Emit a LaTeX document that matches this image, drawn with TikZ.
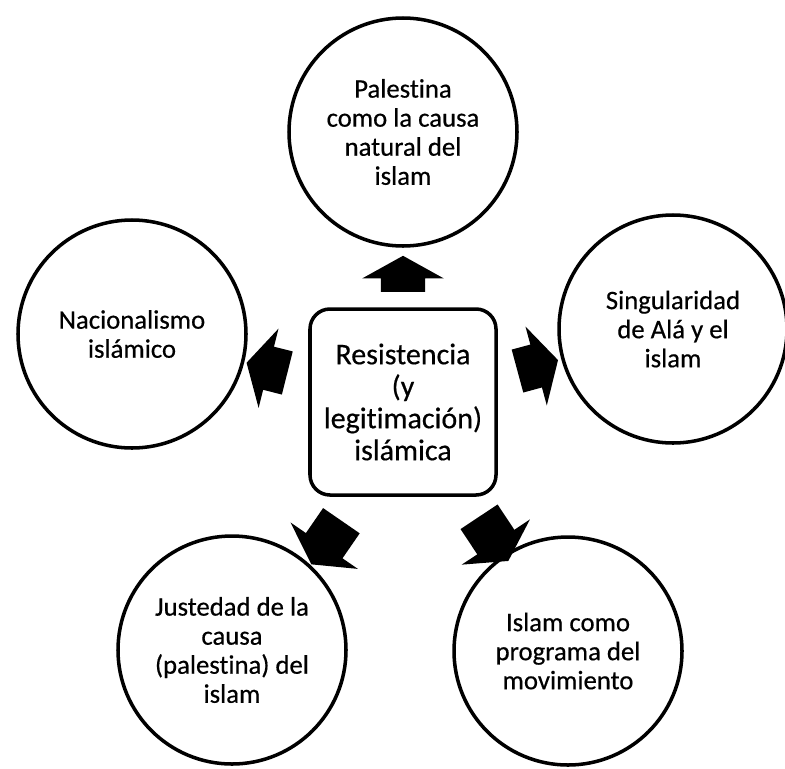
\documentclass[tikz,border=0pt]{standalone}
\usepackage{fontspec}
\setmainfont{Carlito}[Ligatures={NoCommon}, FakeBold=0.5]
\usetikzlibrary{
	shapes.arrows,  %block arrows
	positioning
}

\begin{document}
\begin{tikzpicture}[x=0.3mm, y=-0.3mm]
\tikzstyle{idea}=[circle, draw=black, line width=3pt, minimum size=68.4mm, inner sep=0pt, align=center, font=\fontsize{22.8}{24.8}\selectfont]
\tikzstyle{core}=[rectangle, rounded corners=6mm, draw=black, line width=3pt, minimum size=55.8mm, inner sep=0pt, align=center, font=\fontsize{25.6}{27.3}\selectfont]
\tikzstyle{push}=[single arrow, fill=black, draw=none, inner xsep=0pt, inner ysep=6.6mm, single arrow head extend=5.6mm, single arrow tip angle=122, sloped, allow upside down]
\useasboundingbox (0,0) rectangle (785,768);
% centre and the five ideas
\node[core] (res) at (403,402) {Resistencia\\(y\\legitimación)\\islámica};
\node[idea] (pal) at (403,132) {Palestina\\como la causa\\natural del\\islam};
\node[idea] (nac) at (132,334) {Nacionalismo\\islámico};
\node[idea] (sing) at (673,329) {Singularidad\\de Alá y el\\islam};
\node[idea] (just) at (232,650) {Justedad de la\\causa\\(palestina) del\\islam};
\node[idea] (prog) at (568,651) {Islam como\\programa del\\movimiento};
% arrows out of the centre
\path (res.center) -- (pal.center) node[push, pos=.452, minimum height=10.8mm] (apal) {};
\path (res.center) -- (nac.center) node[push, pos=.48, minimum height=12.6mm] (anac) {};
\path (res.center) -- (sing.center) node[push, pos=.477, minimum height=12.6mm] (asing) {};
\path (res.center) -- (just.center) node[push, pos=.508, minimum height=15.9mm, yshift=5mm] (ajust) {};
\path (res.center) -- (prog.center) node[push, pos=.529, minimum height=15.9mm] (aprog) {};
\end{tikzpicture}
\end{document}
